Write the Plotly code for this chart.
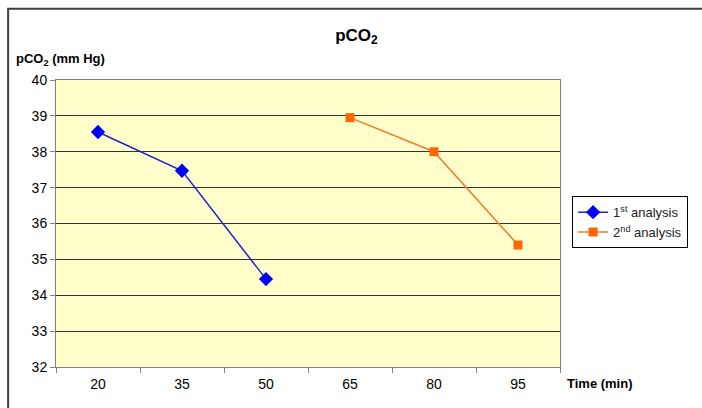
import plotly.graph_objects as go

categories = ["20", "35", "50", "65", "80", "95"]
first_x = ["20", "35", "50"]
first_y = [38.55, 37.47, 34.45]
second_x = ["65", "80", "95"]
second_y = [38.95, 38.0, 35.4]
y_ticks = [32, 33, 34, 35, 36, 37, 38, 39, 40]

FONT = "Liberation Sans, Arial, sans-serif"

fig = go.Figure()
fig.add_trace(go.Scatter(
    x=first_x, y=first_y, mode="lines+markers", name="1<sup>st</sup> analysis",
    line=dict(color="#2020D0", width=1.5),
    marker=dict(symbol="diamond", size=11, color="#0000FF"),
))
fig.add_trace(go.Scatter(
    x=second_x, y=second_y, mode="lines+markers", name="2<sup>nd</sup> analysis",
    line=dict(color="#F47A2A", width=1.5),
    marker=dict(symbol="square", size=9, color="#FF6600"),
))

fig.update_layout(
    width=702, height=408,
    margin=dict(l=56, r=142, t=80, b=41),
    paper_bgcolor="white",
    plot_bgcolor="#FFFFCC",
    font=dict(family=FONT, size=12, color="black"),
    showlegend=True,
    legend=dict(
        x=1.024, y=0.595, xanchor="left", yanchor="top",
        bordercolor="black", borderwidth=1, bgcolor="white",
        font=dict(family=FONT, size=13, color="#222222"),
        itemwidth=30, tracegroupgap=0,
    ),
    title=dict(
        text="<b>pCO<sub>2</sub></b>", x=0.596, xref="paper", xanchor="center",
        y=0.915, yanchor="middle",
        font=dict(family=FONT, size=17, color="black"),
    ),
)

fig.update_xaxes(
    type="category", categoryorder="array", categoryarray=categories,
    range=[-0.5, 5.5],
    tickson="boundaries", ticks="outside", ticklen=5, tickcolor="#808080",
    ticklabelstandoff=4,
    showline=True, linecolor="#808080", linewidth=1, mirror=True,
    showgrid=False, zeroline=False,
    tickfont=dict(family=FONT, size=14, color="black"),
)
fig.update_yaxes(
    range=[32, 40], tickvals=y_ticks, ticks="outside", ticklen=5, tickcolor="#808080",
    showline=True, linecolor="#808080", linewidth=1, mirror=True,
    showgrid=True, gridcolor="#333333", gridwidth=1, zeroline=False,
    tickfont=dict(family=FONT, size=14, color="black"),
)

fig.add_annotation(
    text="<b>pCO<sub>2</sub> (mm Hg)</b>", xref="paper", yref="paper",
    x=-0.083, y=1.072, xanchor="left", yanchor="middle", showarrow=False,
    font=dict(family=FONT, size=13, color="black"),
)
fig.add_annotation(
    text="<b>Time (min)</b>", xref="paper", yref="paper",
    x=1.01, y=-0.058, xanchor="left", yanchor="middle", showarrow=False,
    font=dict(family=FONT, size=13, color="black"),
)

# outer chart frame (extends beyond right/bottom of the view)
fig.add_shape(
    type="rect", xref="paper", yref="paper",
    x0=-0.095, y0=-0.3, x1=1.4, y1=1.248,
    line=dict(color="#404040", width=2), fillcolor="rgba(0,0,0,0)", layer="below",
)

fig.write_html("out.html")
